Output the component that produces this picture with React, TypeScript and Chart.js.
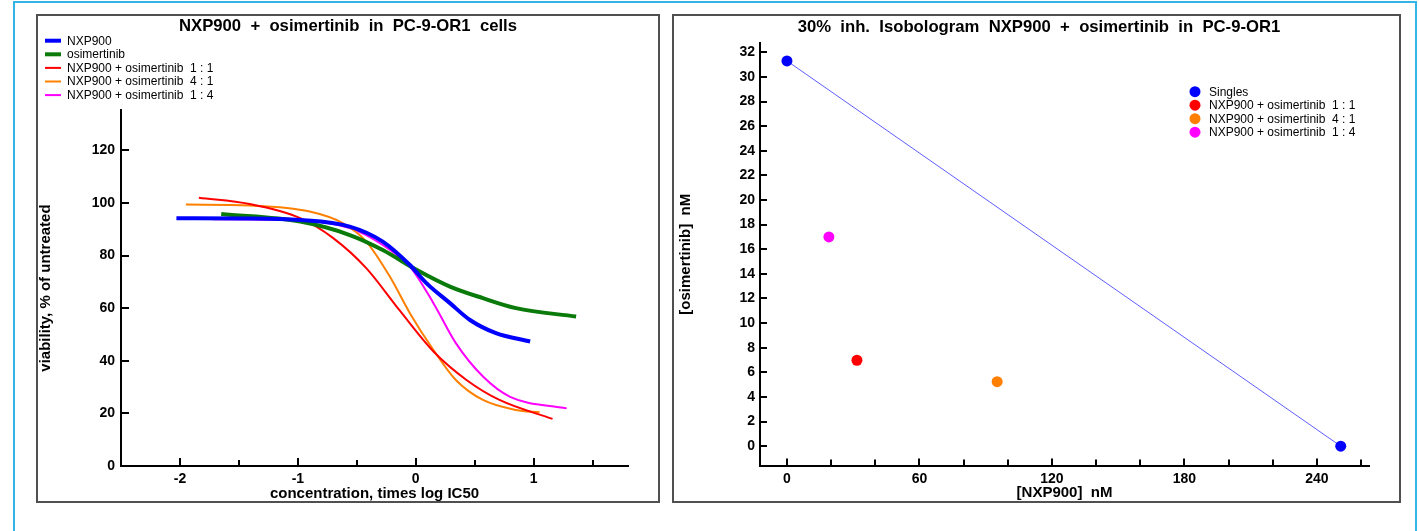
import React, { useEffect, useRef } from 'react';
import { Chart, registerables } from 'chart.js';

Chart.register(...registerables);

const FONT = "'Liberation Sans', Arial, Helvetica, sans-serif";

// ---------- Left chart: dose-response curves ----------
const leftTitle = 'NXP900  +  osimertinib  in  PC-9-OR1  cells';
const leftXTitle = 'concentration, times log IC50';
const leftYTitle = 'viability, % of untreated';
const leftXTicks = [-2, -1.5, -1, -0.5, 0, 0.5, 1, 1.5];
const leftYTicks = [0, 20, 40, 60, 80, 100, 120];

const nxpX = [-2.03, -1.5, -0.98, -0.56, -0.28, -0.05, 0.09, 0.29, 0.46, 0.68, 0.97];
const nxpY = [94.2, 94.1, 93.5, 91.0, 85.3, 76.4, 69.5, 61.9, 55.5, 50.5, 47.3];

const osiX = [-1.65, -0.98, -0.56, -0.28, 0.01, 0.29, 0.57, 0.85, 1.36];
const osiY = [95.8, 92.9, 87.8, 82.1, 74.5, 68.2, 63.8, 60.0, 56.8];

const combo11X = [-1.84, -1.41, -0.98, -0.7, -0.42, -0.14, 0.15, 0.43, 0.71, 1.16];
const combo11Y = [102.0, 99.6, 94.2, 86.6, 75.2, 59.3, 43.5, 32.7, 25.1, 17.9];

const combo41X = [-1.95, -1.41, -0.9, -0.62, -0.42, -0.22, -0.05, 0.15, 0.34, 0.57, 0.85, 1.05];
const combo41Y = [99.4, 99.0, 96.7, 92.3, 85.3, 72.0, 58.1, 44.1, 32.7, 25.1, 21.3, 20.4];

const combo14X = [-1.72, -0.98, -0.56, -0.28, -0.05, 0.15, 0.34, 0.57, 0.8, 1.28];
const combo14Y = [93.8, 93.3, 90.4, 84.0, 75.8, 61.9, 46.7, 34.0, 26.3, 21.9];

// ---------- Right chart: isobologram ----------
const rightTitle = '30%  inh.  Isobologram  NXP900  +  osimertinib  in  PC-9-OR1';
const rightXTitle = '[NXP900]  nM';
const rightYTitle = '[osimertinib]  nM';
const rightXTicks = [0, 20, 40, 60, 80, 100, 120, 140, 160, 180, 200, 220, 240, 260];
const rightYTicks = [0, 2, 4, 6, 8, 10, 12, 14, 16, 18, 20, 22, 24, 26, 28, 30, 32];

const singlesX = [0, 250.8];
const singlesY = [31.3, 0];
const iso11X = [31.7];
const iso11Y = [6.98];
const iso41X = [95.2];
const iso41Y = [5.24];
const iso14X = [19.0];
const iso14Y = [17.0];

const pts = (xs: number[], ys: number[]) => xs.map((x, i) => ({ x, y: ys[i] }));

// draws tick marks pointing into the plot area
const inwardTicks = {
  id: 'inwardTicks',
  afterDatasetsDraw(chart: any, _args: any, opts: any) {
    const { ctx, chartArea } = chart;
    const xs = chart.scales.x;
    const ys = chart.scales.y;
    ctx.save();
    ctx.strokeStyle = '#000';
    ctx.lineWidth = 2;
    xs.ticks.forEach((t: any) => {
      const px = Math.round(xs.getPixelForValue(t.value));
      const len = t.label !== '' ? opts.xMajor : opts.xMinor;
      ctx.beginPath();
      ctx.moveTo(px, chartArea.bottom);
      ctx.lineTo(px, chartArea.bottom - len);
      ctx.stroke();
    });
    ys.ticks.forEach((t: any) => {
      const py = Math.round(ys.getPixelForValue(t.value));
      ctx.beginPath();
      ctx.moveTo(chartArea.left, py);
      ctx.lineTo(chartArea.left + opts.yLen, py);
      ctx.stroke();
    });
    ctx.restore();
  },
};

// legend drawn at a fixed spot as a vertical list
const panelLegend = {
  id: 'panelLegend',
  afterDraw(chart: any, _args: any, opts: any) {
    const { ctx } = chart;
    ctx.save();
    ctx.font = `12px ${FONT}`;
    ctx.textBaseline = 'middle';
    ctx.textAlign = 'left';
    chart.data.datasets.forEach((ds: any, i: number) => {
      const y = opts.y + i * opts.gap;
      if (opts.kind === 'line') {
        ctx.strokeStyle = ds.borderColor;
        ctx.lineWidth = ds.borderWidth;
        ctx.beginPath();
        ctx.moveTo(opts.x, y);
        ctx.lineTo(opts.x + 16, y);
        ctx.stroke();
      } else {
        ctx.fillStyle = ds.pointBackgroundColor;
        ctx.beginPath();
        ctx.arc(opts.x, y, 5.5, 0, Math.PI * 2);
        ctx.fill();
      }
      ctx.fillStyle = '#000';
      ctx.fillText(ds.label, opts.textX, y + 0.5);
    });
    ctx.restore();
  },
};

const tickFont = { family: FONT, size: 14, weight: 'bold' as const };
const titleFont = { family: FONT, size: 16.7, weight: 'bold' as const, lineHeight: 1.2 };
const axisTitleFont = { family: FONT, size: 15, weight: 'bold' as const, lineHeight: 1 };

function LeftChart() {
  const ref = useRef<HTMLCanvasElement>(null);
  useEffect(() => {
    const mk = (label: string, xs: number[], ys: number[], color: string, w: number) => ({
      label,
      data: pts(xs, ys),
      borderColor: color,
      backgroundColor: color,
      borderWidth: w,
      pointRadius: 0,
      cubicInterpolationMode: 'monotone' as const,
      fill: false,
    });
    const chart = new Chart(ref.current!, {
      type: 'line',
      data: {
        datasets: [
          mk('NXP900', nxpX, nxpY, '#0000FF', 4),
          mk('osimertinib', osiX, osiY, '#0A7A0A', 4),
          mk('NXP900 + osimertinib  1 : 1', combo11X, combo11Y, '#FF0000', 2),
          mk('NXP900 + osimertinib  4 : 1', combo41X, combo41Y, '#FF8000', 2),
          mk('NXP900 + osimertinib  1 : 4', combo14X, combo14Y, '#FF00FF', 2),
        ],
      },
      options: {
        animation: false,
        responsive: false,
        layout: { padding: { left: 30, right: 30, top: 0, bottom: 0 } },
        scales: {
          x: {
            type: 'linear',
            min: -2.5,
            max: 1.8,
            afterBuildTicks: (s: any) => { s.ticks = leftXTicks.map((v) => ({ value: v })); },
            afterFit: (s: any) => { s.height = 35; },
            grid: { display: false, drawTicks: false },
            border: { display: true, color: '#000', width: 2 },
            ticks: {
              autoSkip: false,
              maxRotation: 0,
              padding: 5,
              color: '#000',
              font: tickFont,
              callback: (v: any) => (Number.isInteger(Number(v)) ? String(v) : ''),
            },
            title: { display: true, text: leftXTitle, color: '#000', font: axisTitleFont, padding: 0 },
          },
          y: {
            type: 'linear',
            min: 0,
            max: 135.3,
            afterBuildTicks: (s: any) => { s.ticks = leftYTicks.map((v) => ({ value: v })); },
            afterFit: (s: any) => { s.width = 53; },
            grid: { display: false, drawTicks: false },
            border: { display: true, color: '#000', width: 2 },
            ticks: { autoSkip: false, padding: 6, color: '#000', font: tickFont },
            title: { display: true, text: leftYTitle, color: '#000', font: axisTitleFont, padding: { top: -29.5, bottom: 0 } },
          },
        },
        plugins: {
          legend: { display: false },
          tooltip: { enabled: false },
          title: {
            display: true,
            text: leftTitle,
            color: '#000',
            font: titleFont,
            padding: { top: 0, bottom: 74 },
          },
          panelLegend: { kind: 'line', x: 7, textX: 29, y: 24.7, gap: 13.6 },
          inwardTicks: { xMajor: 8, xMinor: 6, yLen: 8 },
        } as any,
      },
      plugins: [inwardTicks, panelLegend],
    } as any);
    return () => chart.destroy();
  }, []);
  return <canvas ref={ref} width={620} height={485} style={{ display: 'block', width: 620, height: 485 }} />;
}

function RightChart() {
  const ref = useRef<HTMLCanvasElement>(null);
  useEffect(() => {
    const dot = (label: string, xs: number[], ys: number[], color: string) => ({
      label,
      data: pts(xs, ys),
      backgroundColor: color,
      pointBackgroundColor: color,
      borderColor: color,
      pointBorderWidth: 0,
      pointRadius: 5.5,
      showLine: false,
    });
    const chart = new Chart(ref.current!, {
      type: 'scatter',
      data: {
        datasets: [
          {
            ...dot('Singles', singlesX, singlesY, '#0000FF'),
            showLine: true,
            borderColor: 'rgba(40,40,255,0.75)',
            borderWidth: 1,
          },
          dot('NXP900 + osimertinib  1 : 1', iso11X, iso11Y, '#FF0000'),
          dot('NXP900 + osimertinib  4 : 1', iso41X, iso41Y, '#FF8000'),
          dot('NXP900 + osimertinib  1 : 4', iso14X, iso14Y, '#FF00FF'),
        ],
      },
      options: {
        animation: false,
        responsive: false,
        layout: { padding: { left: 35, right: 30, top: 0, bottom: 0 } },
        scales: {
          x: {
            type: 'linear',
            min: -12.2,
            max: 263.6,
            afterBuildTicks: (s: any) => { s.ticks = rightXTicks.map((v) => ({ value: v })); },
            afterFit: (s: any) => { s.height = 35.5; },
            grid: { display: false, drawTicks: false },
            border: { display: true, color: '#000', width: 2 },
            ticks: {
              autoSkip: false,
              maxRotation: 0,
              padding: 5,
              color: '#000',
              font: tickFont,
              callback: (v: any) => (Number(v) % 60 === 0 ? String(v) : ''),
            },
            title: { display: true, text: rightXTitle, color: '#000', font: axisTitleFont, padding: { top: 0, bottom: 1 } },
          },
          y: {
            type: 'linear',
            min: -1.57,
            max: 32.75,
            afterBuildTicks: (s: any) => { s.ticks = rightYTicks.map((v) => ({ value: v })); },
            afterFit: (s: any) => { s.width = 51; },
            grid: { display: false, drawTicks: false },
            border: { display: true, color: '#000', width: 2 },
            ticks: { autoSkip: false, padding: 5, color: '#000', font: tickFont },
            title: { display: true, text: rightYTitle, color: '#000', font: axisTitleFont, padding: { top: -30.5, bottom: 0 } },
          },
        },
        plugins: {
          legend: { display: false },
          tooltip: { enabled: false },
          title: {
            display: true,
            text: rightTitle,
            color: '#000',
            font: titleFont,
            padding: { top: 1, bottom: 6 },
          },
          panelLegend: { kind: 'dot', x: 521, textX: 535, y: 75.7, gap: 13.5 },
          inwardTicks: { xMajor: 7, xMinor: 6, yLen: 7 },
        } as any,
      },
      plugins: [inwardTicks, panelLegend],
    } as any);
    return () => chart.destroy();
  }, []);
  return <canvas ref={ref} width={725} height={485} style={{ display: 'block', width: 725, height: 485 }} />;
}

export default function App() {
  const panel = (left: number, width: number): React.CSSProperties => ({
    position: 'absolute',
    left,
    top: 14,
    width,
    height: 489,
    boxSizing: 'border-box',
    border: '2px solid #505050',
    background: '#fff',
  });
  return (
    <div
      style={{
        position: 'fixed',
        left: 0,
        top: 0,
        width: 1419,
        height: 531,
        overflow: 'hidden',
        background: '#fff',
      }}
    >
      <div
        style={{
          position: 'absolute',
          left: 13,
          top: 1,
          width: 1404,
          height: 700,
          boxSizing: 'border-box',
          border: '2px solid #35B5E5',
        }}
      />
      <div style={panel(36, 624)}>
        <LeftChart />
      </div>
      <div style={panel(672, 729)}>
        <RightChart />
      </div>
    </div>
  );
}
